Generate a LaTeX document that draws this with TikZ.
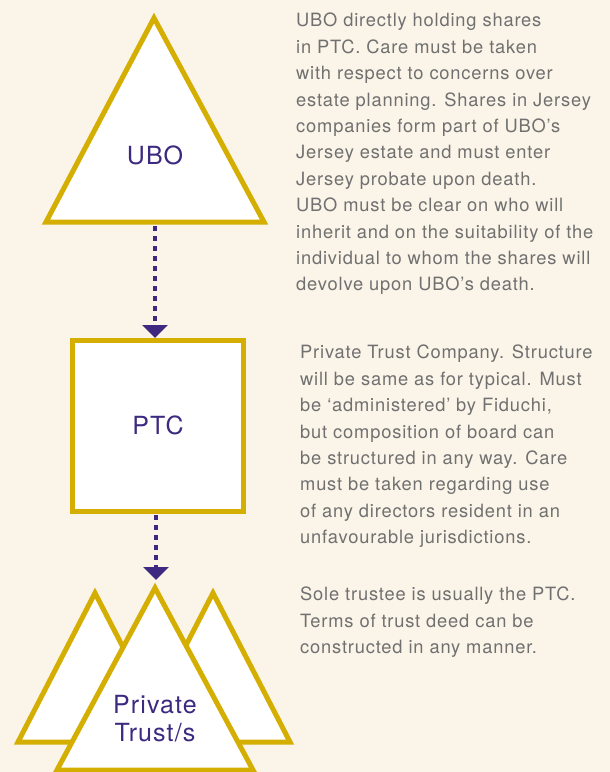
\documentclass[tikz,border=0pt]{standalone}
\usepackage{fontspec}
\setmainfont{TeX Gyre Heros}[LetterSpace=4.5]
\usepackage{tikz}
\usetikzlibrary{arrows.meta}
\usetikzlibrary{positioning}
\definecolor{gold}{RGB}{212,174,0}
\definecolor{ink}{RGB}{61,42,128}
\definecolor{cream}{RGB}{251,244,232}
\definecolor{note}{RGB}{112,112,112}

\begin{document}
\begin{tikzpicture}[
		x=1pt,y=-1pt,
		MyShapes/.style={draw=gold,fill=white,line width=5pt,line join=miter},
		MyLabels/.style={text=ink,font=\fontsize{25}{28}\selectfont,align=center,inner sep=0pt},
		MyNotes/.style={text=note,font=\fontsize{18.3}{26.4}\selectfont,align=left,anchor=north west,inner sep=0pt},
		Connector/.style={draw=ink,line width=4pt,dash pattern=on 5pt off 5pt,-{Triangle[width=25pt,length=13pt]}}
		]
		\fill[cream] (0,0) rectangle (610,772);
		\useasboundingbox (0,0) rectangle (610,772);
		\clip (0,0) rectangle (610,772);
		
		% owner
		\coordinate (ubo-top) at (154,18);
		\coordinate (ubo-base) at (155,222);
		\draw[MyShapes] (ubo-top) -- (264,222) -- (46,222) -- cycle;
		\node[MyLabels] (ubo) at (155,155) {UBO};
		
		% company
		\node[draw=gold,fill=white,line width=5pt,outer sep=0pt,minimum width=171pt,minimum height=171pt,
			MyLabels] (ptc) at (158,425.5) {PTC};
		
		% trusts
		\draw[MyShapes] (95,593) -- (172,742) -- (18,742) -- cycle;
		\draw[MyShapes] (213,593) -- (290,742) -- (136,742) -- cycle;
		\coordinate (trust-top) at (156,580);
		\draw[MyShapes] (155,588) -- (253,770) -- (57,770) -- cycle;
		\node[MyLabels] (trust) at (155,719) {Private\\Trust/s};
		
		\draw[Connector,shorten <=4pt,shorten >=2pt] (ubo-base) -- (ubo-base |- ptc.north);
		\draw[Connector,shorten <=4pt] (ptc.south -| trust-top) -- (trust-top);
		
		\node[MyNotes] (note-ubo) at (296,13) {UBO directly holding shares\\
			in PTC. Care must be taken\\
			with respect to concerns over\\
			estate planning. Shares in Jersey\\
			companies form part of UBO’s\\
			Jersey estate and must enter\\
			Jersey probate upon death.\\
			UBO must be clear on who will\\
			inherit and on the suitability of the\\
			individual to whom the shares will\\
			devolve upon UBO’s death.};
		
		\node[MyNotes] (note-ptc) at (300,345) {Private Trust Company. Structure\\
			will be same as for typical. Must\\
			be ‘administered’ by Fiduchi,\\
			but composition of board can\\
			be structured in any way. Care\\
			must be taken regarding use\\
			of any directors resident in an\\
			unfavourable jurisdictions.};
		
		\node[MyNotes] (note-trust) at (300,587) {Sole trustee is usually the PTC.\\
			Terms of trust deed can be\\
			constructed in any manner.};
		
	\end{tikzpicture}
\end{document}
